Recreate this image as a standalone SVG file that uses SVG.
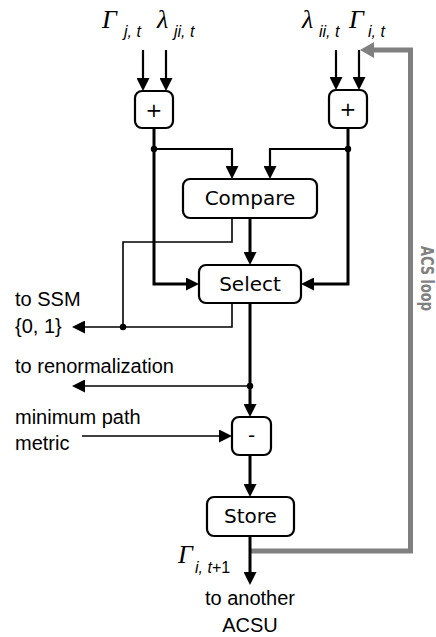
<svg xmlns="http://www.w3.org/2000/svg" width="436" height="637" viewBox="0 0 436 637">
<style>
.box{fill:#fff;stroke:#000;stroke-width:2.2}
.thick{fill:none;stroke:#000;stroke-width:3}
.mid{fill:none;stroke:#000;stroke-width:2.2}
.thin{fill:none;stroke:#000;stroke-width:1.6}
.gray{fill:none;stroke:#808080;stroke-width:5}
.lbl{font-family:"DejaVu Sans",Verdana,sans-serif;font-size:20px;fill:#000;text-anchor:middle}
.side{font-family:"Liberation Sans",Arial,sans-serif;font-size:20px;fill:#000}
.greek{font-family:"Liberation Serif","Times New Roman",serif;font-style:italic;font-size:26px;fill:#000}
.sub{font-family:"Liberation Sans",Arial,sans-serif;font-style:italic;font-size:16px;fill:#000}
.up{font-style:normal}
.acs{font-family:"DejaVu Sans",Verdana,sans-serif;font-weight:bold;font-size:17px;fill:#808080}
</style>
<defs>
<marker id="ah" viewBox="0 0 13 13" refX="5" refY="6.5" markerWidth="13" markerHeight="13" markerUnits="userSpaceOnUse" orient="auto">
<path d="M0,0 L13,6.5 L0,13 z" fill="#000"/>
</marker>
<marker id="ahg" viewBox="0 0 14 16" refX="5" refY="8" markerWidth="14" markerHeight="16" markerUnits="userSpaceOnUse" orient="auto">
<path d="M0,0 L14,8 L0,16 z" fill="#808080"/>
</marker>
</defs>

<g id="labels-top">
<text class="greek" x="102" y="28">Γ</text><text class="sub" x="124" y="37">j, t</text>
<text class="greek" x="157" y="28">λ</text><text class="sub" x="174" y="37">ji, t</text>
<text class="greek" x="302" y="28">λ</text><text class="sub" x="319" y="37">ii, t</text>
<text class="greek" x="349" y="28">Γ</text><text class="sub" x="368" y="37">i, t</text>
</g>

<g id="connectors">
<path class="gray" d="M250,551 H410.5 V50 H369" marker-end="url(#ahg)"/>
<path class="mid" d="M143,50 V83" marker-end="url(#ah)"/>
<path class="mid" d="M166,50 V83" marker-end="url(#ah)"/>
<path class="mid" d="M336,50 V82" marker-end="url(#ah)"/>
<path class="mid" d="M359,50 V82" marker-end="url(#ah)"/>
<path class="thick" d="M154,128 V284 H191" marker-end="url(#ah)"/>
<path class="thick" d="M348,128 V284 H309" marker-end="url(#ah)"/>
<path class="mid" d="M154,149 H232 V171" marker-end="url(#ah)"/>
<path class="mid" d="M348,149 H270 V171" marker-end="url(#ah)"/>
<path class="thick" d="M250,218 V257" marker-end="url(#ah)"/>
<path class="thin" d="M232,218 V242 H123 V327"/>
<path class="thin" d="M232,303 V327 H80" marker-end="url(#ah)"/>
<path class="thick" d="M250,303 V409" marker-end="url(#ah)"/>
<path class="thin" d="M250,386 H80" marker-end="url(#ah)"/>
<path class="thin" d="M82,436 H224" marker-end="url(#ah)"/>
<path class="thick" d="M250,455 V489" marker-end="url(#ah)"/>
<path class="thick" d="M250,536 V577" marker-end="url(#ah)"/>
<circle cx="154" cy="149" r="3.2"/>
<circle cx="348" cy="149" r="3.2"/>
<circle cx="123" cy="327" r="3.2"/>
<circle cx="250" cy="386" r="3.2"/>
</g>

<g id="add-left">
<rect class="box" x="135" y="91" width="38" height="37" rx="7"/>
<text class="lbl" x="154" y="117">+</text>
</g>
<g id="add-right">
<rect class="box" x="329" y="90" width="38" height="38" rx="7"/>
<text class="lbl" x="348" y="116">+</text>
</g>
<g id="compare">
<rect class="box" x="183" y="179" width="134" height="39" rx="7"/>
<text class="lbl" x="250" y="205">Compare</text>
</g>
<g id="select">
<rect class="box" x="199" y="265" width="102" height="38" rx="7"/>
<text class="lbl" x="250" y="291">Select</text>
</g>
<g id="subtract">
<rect class="box" x="232" y="417" width="39" height="38" rx="7"/>
<text class="lbl" x="251.5" y="442">-</text>
</g>
<g id="store">
<rect class="box" x="207" y="497" width="87" height="39" rx="7"/>
<text class="lbl" x="250.5" y="523">Store</text>
</g>

<g id="labels-side">
<text class="side" x="15" y="306">to SSM</text>
<text class="side" x="15" y="333">{0, 1}</text>
<text class="side" x="15" y="373">to renormalization</text>
<text class="side" x="15" y="424">minimum path</text>
<text class="side" x="15" y="450">metric</text>
<text class="greek" x="178" y="563">Γ</text><text class="sub" x="195" y="573">i, t<tspan class="up">+1</tspan></text>
<text class="side" x="250" y="605" text-anchor="middle">to another</text>
<text class="side" x="250" y="632" text-anchor="middle">ACSU</text>
<text class="acs" transform="translate(421,246) rotate(90)" textLength="65" lengthAdjust="spacingAndGlyphs">ACS loop</text>
</g>
</svg>
